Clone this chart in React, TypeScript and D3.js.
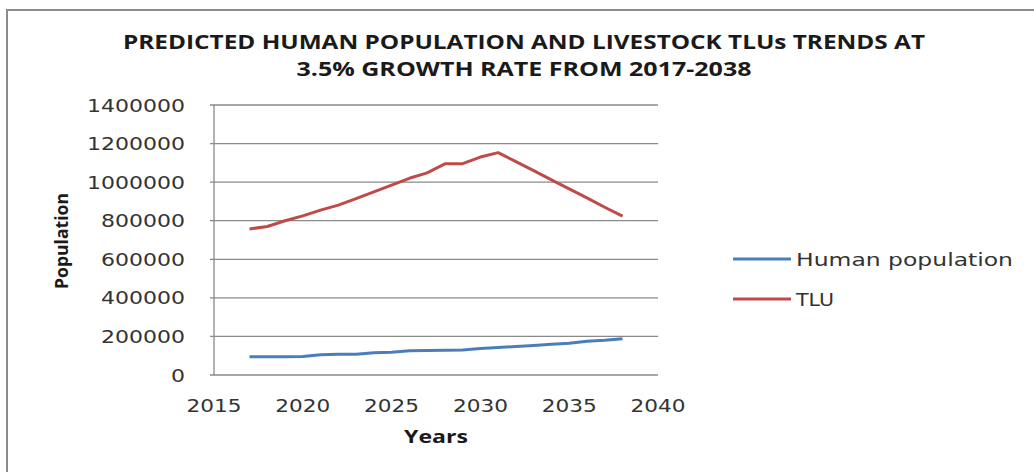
import React from "react";
import * as d3 from "d3";

const years = [2017, 2018, 2019, 2020, 2021, 2022, 2023, 2024, 2025, 2026, 2027, 2028, 2029, 2030, 2031, 2032, 2033, 2034, 2035, 2036, 2037, 2038];
const humanPopulation = [95000, 95000, 95000, 96000, 105000, 107000, 108000, 115000, 118000, 126000, 127000, 128000, 130000, 138000, 143000, 148000, 153000, 160000, 165000, 175000, 180000, 188000];
const tlu = [757000, 770000, 800000, 825000, 855000, 881000, 915000, 950000, 985000, 1020000, 1048000, 1095000, 1096000, 1130000, 1153000, 1106000, 1060000, 1012000, 965000, 918000, 870000, 824000];
const yTicks = [0, 200000, 400000, 600000, 800000, 1000000, 1200000, 1400000];
const xTicks = [2015, 2020, 2025, 2030, 2035, 2040];
const seriesNames = ["Human population", "TLU"];
const seriesColors = ["#4a7ebb", "#be4b48"];
const titleLines = ["PREDICTED HUMAN POPULATION AND LIVESTOCK TLUs TRENDS AT", "3.5% GROWTH RATE FROM 2017-2038"];

export default function App() {
  const W = 1034, H = 472;
  const x = d3.scaleLinear().domain([2015, 2040]).range([214, 658]);
  const y = d3.scaleLinear().domain([0, 1400000]).range([375, 105]);
  const line = d3.line<[number, number]>().x(d => x(d[0])).y(d => y(d[1]));
  const series = [humanPopulation, tlu];
  const axisFont = "'DejaVu Sans', Verdana, sans-serif";
  const boldFont = "'Open Sans', 'Liberation Sans', sans-serif";

  return (
    <svg width={W} height={H} style={{ position: "absolute", left: 0, top: 0, background: "#fff" }}>
      <rect x={7} y={10} width={W + 10} height={H + 10} fill="#fff" stroke="#8c8c8c" strokeWidth={2} />
      {titleLines.map((t, i) => (
        <text key={i} x={524} y={i === 0 ? 48.5 : 76} textAnchor="middle" fontFamily={boldFont} fontWeight="bold" fontSize={19}
          textLength={i === 0 ? 802 : 455} lengthAdjust="spacingAndGlyphs" fill="#1a1a1a">{t}</text>
      ))}
      {yTicks.map(v => (
        <g key={v}>
          <line x1={210} x2={658} y1={y(v)} y2={y(v)} stroke="#8a8a8a" strokeWidth={1.3} />
          <text x={185} y={y(v) + 6.5} textAnchor="end" fontFamily={axisFont} fontSize={18} fill="#333"
            textLength={String(v).length * 14} lengthAdjust="spacingAndGlyphs">{v}</text>
        </g>
      ))}
      <line x1={214} x2={214} y1={105} y2={375} stroke="#8a8a8a" strokeWidth={1.3} />
      {xTicks.map(v => (
        <text key={v} x={x(v)} y={412} textAnchor="middle" fontFamily={axisFont} fontSize={18} fill="#333"
          textLength={55} lengthAdjust="spacingAndGlyphs">{v}</text>
      ))}
      <text x={436} y={443} textAnchor="middle" fontFamily={boldFont} fontWeight="bold" fontSize={18} fill="#1a1a1a"
        textLength={64} lengthAdjust="spacingAndGlyphs">Years</text>
      <text transform="translate(68,241) rotate(-90)" textAnchor="middle" fontFamily={boldFont} fontWeight="bold" fontSize={18} fill="#1a1a1a"
        textLength={96} lengthAdjust="spacingAndGlyphs">Population</text>
      {series.map((s, i) => (
        <path key={i} d={line(years.map((yr, j) => [yr, s[j]] as [number, number])) || ""} fill="none"
          stroke={seriesColors[i]} strokeWidth={3} strokeLinejoin="round" />
      ))}
      {seriesNames.map((n, i) => (
        <g key={n}>
          <line x1={733} x2={791} y1={259 + i * 40} y2={259 + i * 40} stroke={seriesColors[i]} strokeWidth={3} />
          <text x={796} y={265.5 + i * 40} fontFamily={axisFont} fontSize={17} fill="#333"
            textLength={n.length === 3 ? 38 : 217} lengthAdjust="spacingAndGlyphs">{n}</text>
        </g>
      ))}
    </svg>
  );
}
